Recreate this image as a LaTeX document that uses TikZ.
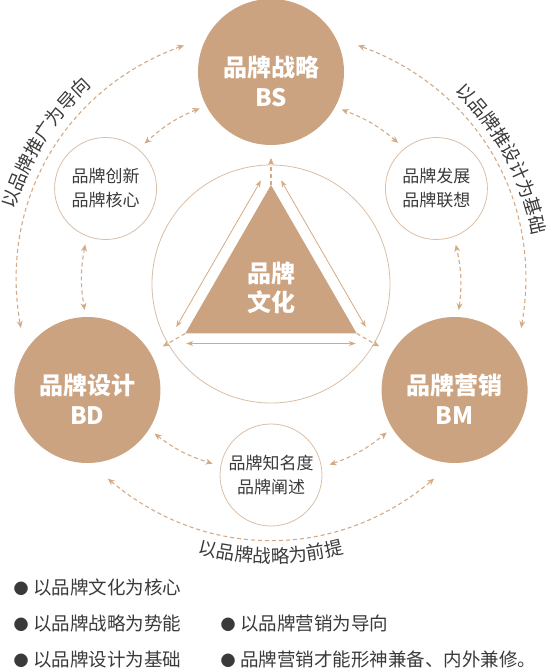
\documentclass[tikz,border=0pt]{standalone}
\usepackage{fontspec}
\newfontfamily\cjk{Noto Sans CJK SC}
\usetikzlibrary{arrows.meta,calc,shapes.geometric,decorations.text}

\definecolor{brandbrown}{RGB}{203,163,128}
\definecolor{ringtan}{RGB}{218,190,165}
\definecolor{dashtan}{RGB}{212,170,132}
\definecolor{inkgray}{RGB}{58,58,58}

\newcommand{\dotmark}{{\fontsize{15}{15}\selectfont ●}\hspace{4.5pt}}

\begin{document}
\begin{tikzpicture}[x=1pt, y=1pt,
        bigcirc/.style={circle, fill=brandbrown, minimum size=146pt, inner sep=0pt, outer sep=7pt},
        smallcirc/.style={circle, draw=ringtan, line width=0.8pt, minimum size=102pt, inner sep=0pt, outer sep=8.5pt, align=center, text=inkgray, font=\cjk\fontsize{17}{24}\selectfont},
        bigtext/.style={align=center, text=white, font=\cjk\bfseries\fontsize{24}{30}\selectfont},
        bullettext/.style={anchor=west, inner sep=0pt, text=inkgray, font=\cjk\fontsize{18.5}{20}\selectfont},
        dasharrow/.style={draw=dashtan, line width=1.1pt, dash pattern=on 4pt off 3pt, {Stealth[length=7pt,width=6pt]}-{Stealth[length=7pt,width=6pt]}},
        dashray/.style={draw=dashtan, line width=1.1pt, dash pattern=on 4pt off 3pt, -{Stealth[length=7pt,width=6pt]}},
        sidearrow/.style={draw=dashtan, line width=0.8pt, shorten <=1pt, shorten >=1pt, {Stealth[length=7pt,width=5pt]}-{Stealth[length=7pt,width=5pt]}},
        arclabel/.style={decorate, decoration={text along path, text align=center, text={|\cjk\fontsize{18.5}{20}\selectfont\color{inkgray}|#1}}}
    ]
    \useasboundingbox (-271,-387) rectangle (276,284);

    % --- centre: culture ---
    \node[circle, draw=ringtan, line width=0.8pt, minimum size=238pt, inner sep=0pt] (core) at (0,0) {};
    \node[regular polygon, regular polygon sides=3, fill=brandbrown, minimum size=198pt, inner sep=0pt, outer sep=0pt] (tri) at (0,0) {};
    \node[bigtext, font=\cjk\bfseries\fontsize{24}{29}\selectfont] (tritext) at (0,-4) {品牌\\文化};

    % --- big circles ---
    \node[bigcirc] (bs) at (90:212) {};
    \node[bigcirc] (bd) at (210:212) {};
    \node[bigcirc] (bm) at (330:212) {};
    \node[bigtext] (bstext) at ([yshift=-9pt]bs.center) {品牌战略\\BS};
    \node[bigtext] (bdtext) at ([yshift=-9pt]bd.center) {品牌设计\\BD};
    \node[bigtext] (bmtext) at ([yshift=-9pt]bm.center) {品牌营销\\BM};

    % --- small circles ---
    \node[smallcirc] (sinno) at (150:191) {品牌创新\\品牌核心};
    \node[smallcirc] (sfame) at (270:191) {品牌知名度\\品牌阐述};
    \node[smallcirc] (sdev) at (30:191) {品牌发展\\品牌联想};

    % --- triangle arrows ---
    \draw[sidearrow] ($(tri.corner 1)+(150:11)$) -- ($(tri.corner 2)+(150:11)$);
    \draw[sidearrow] ($(tri.corner 2)+(270:10)$) -- ($(tri.corner 3)+(270:10)$);
    \draw[sidearrow] ($(tri.corner 3)+(30:11)$) -- ($(tri.corner 1)+(30:11)$);
    \draw[dashray] (tri.corner 1) -- ++(90:27);
    \draw[dashray] (tri.corner 2) -- ++(210:26);
    \draw[dashray] (tri.corner 3) -- ++(330:26);

    % --- inner ring of connectors ---
    \draw[dasharrow] (bs.207.5) to[bend right=10] (sinno.49.2);
    \draw[dasharrow] (sinno.250.8) to[bend right=10] (bd.92.5);
    \draw[dasharrow] (bd.327.5) to[bend right=10] (sfame.169.2);
    \draw[dasharrow] (sfame.10.8) to[bend right=10] (bm.212.5);
    \draw[dasharrow] (bm.87.5) to[bend right=10] (sdev.289.2);
    \draw[dasharrow] (sdev.130.8) to[bend right=10] (bs.332.5);

    % --- outer ring ---
    \draw[dasharrow] ($(bs.center)!91pt!(bs.163)$) to[bend right=40] ($(bd.center)!91pt!(bd.137)$);
    \draw[dasharrow] ($(bd.center)!91pt!(bd.283)$) to[bend right=40] ($(bm.center)!91pt!(bm.257)$);
    \draw[dasharrow] ($(bm.center)!91pt!(bm.43)$) to[bend right=40] ($(bs.center)!91pt!(bs.17)$);

    \path[arclabel={以品牌推广为导向}] (188:267) arc[start angle=188, end angle=108, radius=267];
    \path[arclabel={以品牌推设计为基础}] (68:266) arc[start angle=68, end angle=-11, radius=266];
    \path[arclabel={以品牌战略为前提}] (230:279) arc[start angle=230, end angle=310, radius=279];

    % --- notes ---
    \node[bullettext] (pt1) at (-257.5,-303) {\dotmark 以品牌文化为核心};
    \node[bullettext] (pt2) at (-257.5,-339) {\dotmark 以品牌战略为势能};
    \node[bullettext] (pt3) at (-50.5,-339) {\dotmark 以品牌营销为导向};
    \node[bullettext] (pt4) at (-257.5,-375) {\dotmark 以品牌设计为基础};
    \node[bullettext] (pt5) at (-50.5,-375) {\dotmark 品牌营销才能形神兼备、内外兼修。};

\end{tikzpicture}
\end{document}
